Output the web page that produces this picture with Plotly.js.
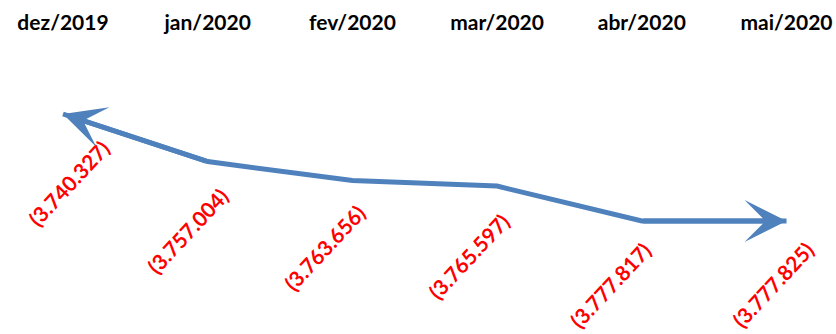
<!DOCTYPE html>
<html>
<head>
<meta charset="utf-8">
<script src="https://cdn.plot.ly/plotly-3.0.1.min.js"></script>
<style>html,body{margin:0;padding:0;background:#fff;}#chart{width:836px;height:334px;}</style>
</head>
<body>
<div id="chart"></div>
<script>
// Data
var months = ['dez/2019', 'jan/2020', 'fev/2020', 'mar/2020', 'abr/2020', 'mai/2020'];
var values = [-3740327, -3757004, -3763656, -3765597, -3777817, -3777825];

// Label placement offsets (pixels, relative to the point)
var labelDx = [5, -20, -28, -29, -31, -14];
var labelDy = [-69, -69, -67, -70, -64, -63];

function fmt(v) {
  var s = String(Math.abs(v)).replace(/\B(?=(\d{3})+(?!\d))/g, '.');
  return v < 0 ? '(' + s + ')' : s;
}

var lineColor = '#4F81BD';
var idx = months.map(function (m, i) { return i; });

var trace = {
  type: 'scatter',
  mode: 'lines',
  x: idx,
  y: values,
  line: { color: lineColor, width: 5 },
  hoverinfo: 'skip',
  showlegend: false
};

var annotations = [];
values.forEach(function (v, i) {
  annotations.push({
    x: i, y: v, xref: 'x', yref: 'y',
    text: fmt(v),
    showarrow: false,
    textangle: -47,
    xshift: labelDx[i],
    yshift: labelDy[i],
    font: { family: 'Lato, sans-serif', size: 21, color: '#FF0000', weight: 'bold' }
  });
});
// arrow heads at both ends
var n = values.length;
annotations.push({
  x: 0, y: values[0], ax: 1, ay: values[1], xref: 'x', yref: 'y', axref: 'x', ayref: 'y',
  text: '', showarrow: true, arrowhead: 3, arrowsize: 1.4, arrowwidth: 5, arrowcolor: lineColor, standoff: 0
});
annotations.push({
  x: n - 1, y: values[n - 1], ax: n - 2, ay: values[n - 2], xref: 'x', yref: 'y', axref: 'x', ayref: 'y',
  text: '', showarrow: true, arrowhead: 3, arrowsize: 1.4, arrowwidth: 5, arrowcolor: lineColor, standoff: 0
});

var layout = {
  width: 836, height: 334,
  margin: { l: 0, r: 0, t: 35, b: 0 },
  paper_bgcolor: '#ffffff', plot_bgcolor: '#ffffff',
  showlegend: false,
  xaxis: {
    side: 'top',
    range: [-0.4354, 5.342],
    tickmode: 'array', tickvals: idx, ticktext: months,
    showgrid: false, zeroline: false, showline: false, ticks: '',
    automargin: false,
    tickfont: { family: 'Lato, sans-serif', size: 21, color: '#000000', weight: 'bold' }
  },
  yaxis: {
    range: [-3817426, -3712641],
    visible: false, showgrid: false, zeroline: false
  },
  annotations: annotations
};

Plotly.newPlot('chart', [trace], layout, { displayModeBar: false, staticPlot: true });
</script>
</body>
</html>
